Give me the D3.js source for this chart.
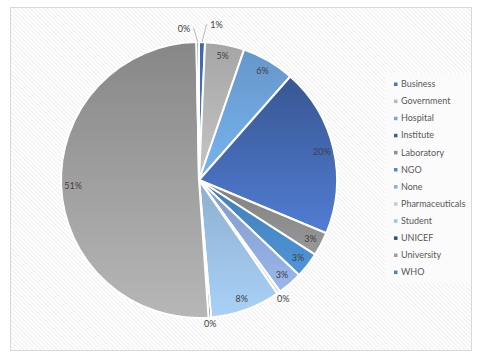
<!DOCTYPE html>
<html><head><meta charset="utf-8">
<script src="https://cdn.jsdelivr.net/npm/d3@7"></script>
<style>body{margin:0;background:#fff}svg{display:block}</style>
</head><body>
<svg id="c" width="480" height="359"></svg>
<script>
const categories = ["Business","Government","Hospital","Institute","Laboratory","NGO","None","Pharmaceuticals","Student","UNICEF","University","WHO"];
const values = [0.7,4.6,6.2,19.8,2.8,3.0,2.9,0.4,8.2,0.3,50.8,0.3];
const labels = ["1%","5%","6%","20%","3%","3%","3%","0%","8%","0%","51%","0%"];
const colors = ["#4472C4","#B8B8B8","#70A8E0","#4A72C2","#8E8E8E","#4A8BCB","#8FAADC","#CACACA","#9DC3E6","#2F4B84","#9C9C9C","#4F81BD"];

const svg = d3.select("#c");
const defs = svg.append("defs");
const pat = defs.append("pattern").attr("id","hatch").attr("patternUnits","userSpaceOnUse")
  .attr("width",3).attr("height",3).attr("patternTransform","rotate(-45)");
pat.append("rect").attr("width",3).attr("height",3).attr("fill","#fff");
pat.append("line").attr("x1",0).attr("y1",0).attr("x2",0).attr("y2",3).attr("stroke","#e4e4e4").attr("stroke-width",1.2);

svg.append("rect").attr("x",10.5).attr("y",7.5).attr("width",461).attr("height",343)
  .attr("fill","url(#hatch)").attr("stroke","#d9d9d9");
svg.append("rect").attr("x",385).attr("y",73).attr("width",86).attr("height",210).attr("fill","#fbfbfb");

categories.forEach((c,i)=>{
  const g = defs.append("linearGradient").attr("id","g"+i).attr("x1",0).attr("y1",0).attr("x2",0).attr("y2",1);
  const base = d3.color(colors[i]);
  const dk = i===3 ? 0.8 : (i===10 ? 0.4 : 0.3);
  const br = i===3 ? 0.25 : (i===10 ? 0.45 : 0.2);
  g.append("stop").attr("offset","0%").attr("stop-color", base.darker(dk));
  g.append("stop").attr("offset","100%").attr("stop-color", base.brighter(br));
});

const cx = 199, cy = 180, R = 138;
const pie = d3.pie().sort(null).value(d=>d.v);
const data = pie(categories.map((c,i)=>({c, v: values[i], i})));
const arc = d3.arc().innerRadius(0).outerRadius(R);
const g = svg.append("g").attr("transform",`translate(${cx},${cy})`);
g.selectAll("path").data(data).join("path")
  .attr("d",arc).attr("fill",d=>`url(#g${d.data.i})`)
  .attr("stroke","#fff").attr("stroke-width",2).attr("stroke-linejoin","round");

// label placement: radius and angular offset (radians)
const place = {0:{r:156,da:0.09,lead:true},7:{r:146,da:0},9:{r:144,da:0},11:{r:152,da:-0.09,lead:true}};
data.forEach(d=>{
  const p = place[d.data.i] || {r:126,da:0};
  const a = (d.startAngle+d.endAngle)/2 + p.da;
  const x = Math.sin(a)*p.r, y = -Math.cos(a)*p.r;
  g.append("text").attr("x",x).attr("y",y).attr("dy","0.35em").attr("text-anchor","middle")
    .attr("font-family","Lato, 'Open Sans', sans-serif").attr("font-size",9).attr("fill","#404040")
    .text(labels[d.data.i]);
  if(p.lead){
    const am = (d.startAngle+d.endAngle)/2;
    const ex = Math.sin(am)*R, ey = -Math.cos(am)*R;
    const side = Math.sign(Math.sin(a));
    g.append("path").attr("d",`M${x - side*9},${y}L${x - side*10},${y}L${ex},${ey}`)
      .attr("fill","none").attr("stroke","#a6a6a6").attr("stroke-width",0.75);
  }
});

const leg = svg.append("g").attr("transform","translate(394,84)");
categories.forEach((c,i)=>{
  const row = leg.append("g").attr("transform",`translate(0,${i*17.1})`);
  row.append("rect").attr("x",0).attr("y",-1.5).attr("width",3.5).attr("height",3.5)
    .attr("fill", i===3 ? d3.color(colors[i]).darker(0.6) : colors[i]);
  row.append("text").attr("x",7).attr("y",0).attr("dy","0.35em")
    .attr("font-family","Lato, 'Open Sans', sans-serif").attr("font-size",9).attr("fill","#595959").text(c);
});
</script>
</body></html>
